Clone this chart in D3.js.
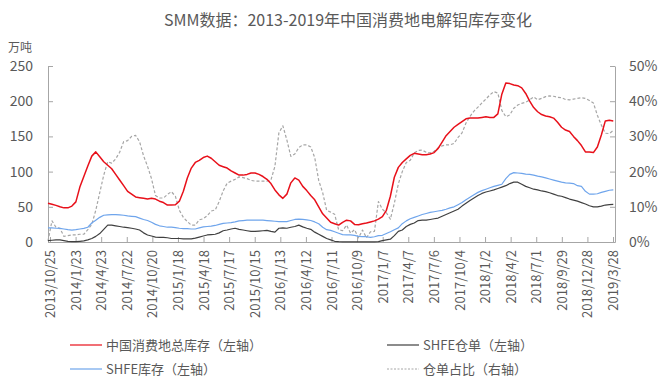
<!DOCTYPE html>
<html><head><meta charset="utf-8">
<script src="https://cdn.jsdelivr.net/npm/d3@7"></script>
<style>
body{margin:0;background:#fff}
svg{display:block}
text{font-family:"Noto Sans CJK SC","Noto Sans",sans-serif;fill:#595959}
</style>
</head><body>
<svg id="chart" width="665" height="383"></svg>
<script>
const titleText = "SMM数据：2013-2019年中国消费地电解铝库存变化";
const leftUnit = "万吨";
// categories: biweekly observations starting at this date
const startDate = "2013-10-18";
const stepDays = 14;
const tickLabels = ["2013/10/25","2014/1/23","2014/4/23","2014/7/22","2014/10/20","2015/1/18","2015/4/18","2015/7/17","2015/10/15","2016/1/13","2016/4/12","2016/7/11","2016/10/9","2017/1/7","2017/4/7","2017/7/6","2017/10/4","2018/1/2","2018/4/2","2018/7/1","2018/9/29","2018/12/28","2019/3/28"];
const leftTicks = [0,50,100,150,200,250];
const rightTicks = [0,10,20,30,40,50];
const seriesNames = ["中国消费地总库存（左轴）","SHFE仓单（左轴）","SHFE库存（左轴）","仓单占比（右轴）"];

// 中国消费地总库存 (万吨)
const totalStock = [55,53.5,52,50,48.5,48.5,51,57,78,93,
108,122,128,121,114,109,104,96,88,80,
72,68,64,63,62,61,62,61,58,56,
52.5,52.5,53,58,72,91,105,113,116,120,
122,119,114,109,107,105,101,98,95,95,
96,98,98,96,93,89,83,74,67,62,
68,84,91,88,79,73,66,60,50,40,
34,28,26,24,28,31,30,25,24.5,26,
27,28.5,30,32.5,36,45,65,92,106,113,
118,123,126,125,124,124,125,127,133,142,
151,157,163,167,171,175,176,176,176,177,
178,177,177,182,210,226,225,223,222,219,
211,200,191,185,181,179,178,176,170,163,
159,157,150,144,137,128,128,127,135,152,
172,173,172];

// SHFE仓单 (万吨)
const shfeWarrant = [2,2.5,3,3,2,1,0.5,0.5,1,1.5,
3,5,8,12,18,24,24,23,22,21,
20.5,19.5,18.5,17,13,10,8.5,7,6.5,6.5,
6,5,5,5,4.5,4.5,4.5,5.5,7,8.5,
10,10.5,11,13,16,17,18.5,19.5,18,17,
16,15,15,15.5,16,16.5,15,14,19.5,20,
19.5,21,22,24,21.5,19.5,18,14,11,8,
5,3,1,0.5,0.3,0.3,0.3,0.3,0.3,0.3,
0.3,0.3,0.3,0.5,2,3,4,9,15,17,
22,25,27,30.5,31,31,32,33,34,36.5,
39,41.5,44,46.5,51,55,59,62.5,66,69,
71,72.5,74,76,78,80,83,85,85,82,
79,77,75,74,72.5,71.5,70,68,66,65,
63,61,59.5,58,56,54,51.5,50,50,51,
52.5,53,53.5];

// SHFE库存 (万吨)
const shfeStock = [20,20,19.5,19.4,18.5,17.5,17,17.5,18.5,19.4,
21,27,31,35,38,38.5,39,39,38.5,38,
37,36.5,36,34,32,30.5,28,25,23,22,
21,21,20.5,19.5,19,19,18.5,18.5,20,21.5,
22,22.5,23.5,25,26.5,27,27.5,28.5,30,30.5,
31,31,31,31,31,30.5,30,29.5,29,29,
29,30.5,32,32.5,32,31.5,30.5,28.5,26,21,
17.5,16.5,14.5,12.5,10.5,10,10,9.5,8,7.5,
7.5,6.5,7.5,9,9.5,12,14.5,17.5,20,26,
30,33,35,37,39,40.5,42,43,44,45,
46.5,48.5,50,53,56,60,63.5,67,70.5,73,
75,77,79,80.5,82,90,96,98.5,98,97.5,
96.5,96,95,93.5,92.5,91,89.5,88,86.5,85,
84,83.5,83,80,79,72,68,68,68.5,70.5,
72,73.5,74];

// 仓单占比 (%)
const warrantRatio = [0.3,6,4.2,3.9,1.6,1.8,2,2,2.2,2.2,
3.5,5,9,14,19,22.8,22.4,23.6,25.5,28.5,
28.8,30,30.3,28.5,24.5,21.5,18,13.2,12.5,12.5,
13.5,14.3,13,9,7,5.8,4.8,4.8,6.3,6.6,
7.5,8.8,9.1,11.5,14.5,16.7,17.3,17.8,18.5,18.3,
18,17.5,17.3,17.3,17.3,17.3,17.6,21.5,31,33,
29,24.3,25,26.8,27.6,27.6,27,24,17.5,14,
9,8.5,7.9,3.5,3.2,4.8,2.5,3.5,1.2,3.4,
1.2,2.9,3,11.5,9.3,8.3,6.5,11,16.5,20,
22.6,23.2,25.3,26,26.1,25.5,25.3,25.8,26.7,27.3,
27.6,27.6,28,29.7,31,33.8,35.7,37.2,38.3,39.5,
40.6,41.8,42.7,42.3,37.4,35.6,36.1,38,38.9,39.4,
39.7,40.4,41.2,40.4,40.8,41.3,41.5,41.4,41.1,41,
40.5,40.4,40.6,40.8,41,40.8,40.2,39.5,36,33.2,
30.9,30.8,31.7];

const svg = d3.select("#chart");
const FONT = '"Noto Sans CJK SC","Noto Sans",sans-serif';
const AXIS = "#a6a6a6";
const TXT = "#595959";

const start = d3.utcParse("%Y-%m-%d")(startDate);
const parseTick = d3.utcParse("%Y/%m/%d");
const dates = totalStock.map((_, i) => d3.utcDay.offset(start, i * stepDays));
const tickDates = tickLabels.map(parseTick);

const x = d3.scaleUtc()
  .domain([start, d3.utcDay.offset(tickDates[tickDates.length - 1], 7)])
  .range([48, 615]);
const yL = d3.scaleLinear().domain([0, 250]).range([242, 66]);
const yR = d3.scaleLinear().domain([0, 50]).range([242, 66]);

// title
svg.append("text").attr("x", 348).attr("y", 26).attr("text-anchor", "middle")
  .attr("font-size", 16).text(titleText);
svg.append("text").attr("x", 8).attr("y", 52).attr("font-size", 12).text(leftUnit);

function styleAxis(g, size) {
  g.attr("font-family", FONT).attr("font-size", size);
  g.select(".domain").attr("stroke", AXIS);
  g.selectAll(".tick line").attr("stroke", AXIS);
  g.selectAll(".tick text").attr("fill", TXT);
}

const gL = svg.append("g").attr("transform", "translate(48,0)")
  .call(d3.axisLeft(yL).tickValues(leftTicks).tickSize(-5).tickSizeOuter(0).tickPadding(15));
styleAxis(gL, 14);

const gR = svg.append("g").attr("transform", "translate(615,0)")
  .call(d3.axisRight(yR).tickValues(rightTicks).tickSize(-5).tickSizeOuter(0).tickPadding(14)
    .tickFormat(d => d + "%"));
styleAxis(gR, 14);

const gB = svg.append("g").attr("transform", "translate(0,242)")
  .call(d3.axisBottom(x).tickValues(tickDates).tickSize(-5).tickSizeOuter(0)
    .tickFormat((d, i) => tickLabels[i]));
styleAxis(gB, 13);
gB.selectAll(".tick text")
  .attr("transform", "rotate(-90)")
  .attr("text-anchor", "end")
  .attr("x", -8).attr("y", 0).attr("dy", "0.35em");

const lineL = d3.line().x((d, i) => x(dates[i])).y(d => yL(d));
const lineR = d3.line().x((d, i) => x(dates[i])).y(d => yR(d));

const series = [
  {name: seriesNames[3], data: warrantRatio, line: lineR, color: "#a6a6a6", width: 1.2, dash: "3,2"},
  {name: seriesNames[2], data: shfeStock, line: lineL, color: "#6fa5ec", width: 1.2, dash: null},
  {name: seriesNames[1], data: shfeWarrant, line: lineL, color: "#404040", width: 1.2, dash: null},
  {name: seriesNames[0], data: totalStock, line: lineL, color: "#e8101a", width: 1.5, dash: null}
];

series.forEach(s => {
  svg.append("path").datum(s.data)
    .attr("fill", "none").attr("stroke", s.color).attr("stroke-width", s.width)
    .attr("stroke-dasharray", s.dash).attr("stroke-linejoin", "round")
    .attr("d", s.line);
});

// legend
const legendItems = [
  {s: series[3], lx: 70, ly: 345},
  {s: series[2], lx: 387, ly: 345},
  {s: series[1], lx: 70, ly: 369},
  {s: series[0], lx: 387, ly: 369}
];
legendItems.forEach(it => {
  const g = svg.append("g");
  g.append("line").attr("x1", it.lx).attr("x2", it.lx + 32).attr("y1", it.ly).attr("y2", it.ly)
    .attr("stroke", it.s.color).attr("stroke-width", it.s.dash ? 1 : 1.2)
    .attr("stroke-dasharray", it.s.dash ? "2,1.5" : null);
  g.append("text").attr("x", it.lx + 36).attr("y", it.ly).attr("dy", "0.35em")
    .attr("font-size", 13).text(it.s.name);
});
</script>
</body></html>
